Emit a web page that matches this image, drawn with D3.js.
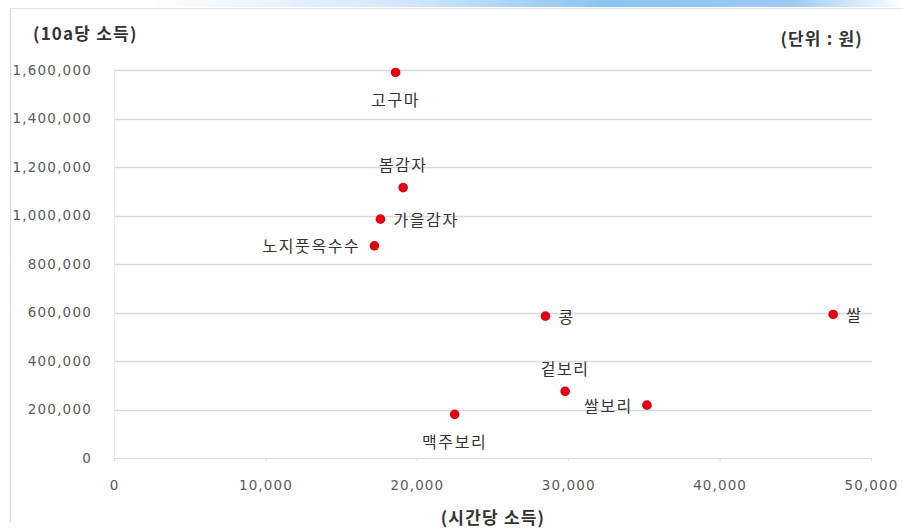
<!DOCTYPE html>
<html><head><meta charset="utf-8">
<script src="https://cdn.jsdelivr.net/npm/d3@7"></script>
<style>
html,body{margin:0;padding:0;background:#fff;}
svg{display:block;font-family:"Noto Sans CJK KR","Noto Sans",sans-serif;}
</style></head>
<body>
<svg id="chart" width="903" height="528"></svg>
<script>
const crops = ["고구마","봄감자","가을감자","노지풋옥수수","콩","쌀","겉보리","쌀보리","맥주보리"];
const hourlyIncome = [18600, 19100, 17600, 17200, 28500, 47500, 29800, 35200, 22500];
const incomePer10a = [1590000, 1115000, 985000, 875000, 585000, 592000, 275000, 218000, 180000];
const labelPos = ["below","above","right","left","right","right","above","left","below"];
const xTicks = [0, 10000, 20000, 30000, 40000, 50000];
const yTicks = [0, 200000, 400000, 600000, 800000, 1000000, 1200000, 1400000, 1600000];
const yTitle = "(10a당 소득)";
const unitText = "(단위 : 원)";
const xTitle = "(시간당 소득)";

const svg = d3.select("#chart");
const defs = svg.append("defs");
const grad = defs.append("linearGradient").attr("id","band").attr("x1","0").attr("x2","1");
grad.append("stop").attr("offset","0").attr("stop-color","#ffffff");
grad.append("stop").attr("offset","0.35").attr("stop-color","#cfe6fb");
grad.append("stop").attr("offset","0.6").attr("stop-color","#8cc3f3");
grad.append("stop").attr("offset","0.85").attr("stop-color","#9ccaf3");
grad.append("stop").attr("offset","1").attr("stop-color","#ffffff");
svg.append("rect").attr("x",150).attr("y",0).attr("width",753).attr("height",7).attr("fill","url(#band)");

// outer frame
svg.append("line").attr("x1",10).attr("x2",903).attr("y1",8.5).attr("y2",8.5).attr("stroke","#e4e4e4");
svg.append("line").attr("x1",10.5).attr("x2",10.5).attr("y1",8).attr("y2",522).attr("stroke","#d8d8d8");

const x = d3.scaleLinear().domain([0,50000]).range([114,871]);
const y = d3.scaleLinear().domain([0,1600000]).range([458,70]);

const fmt = d3.format(",");
const tickFont = "'DejaVu Sans',sans-serif";

// horizontal gridlines
svg.append("g").selectAll("line").data(yTicks.filter(d=>d>0)).join("line")
  .attr("x1",x(0)).attr("x2",x(50000)+1)
  .attr("y1",d=>Math.round(y(d))+0.5).attr("y2",d=>Math.round(y(d))+0.5)
  .attr("stroke","#d9d9d9").attr("stroke-width",1.3);

// y axis
const yAxis = svg.append("g").attr("transform",`translate(${x(0)},0)`)
  .call(d3.axisLeft(y).tickValues(yTicks).tickFormat(fmt).tickSize(0).tickPadding(22));
yAxis.select(".domain").attr("stroke","#ececec");
yAxis.selectAll("text").attr("fill","#5a5a5a").attr("font-size",13.5)
  .attr("letter-spacing",1.2).style("font-family",tickFont);

// x axis
const xAxis = svg.append("g").attr("transform",`translate(0,${y(0)})`)
  .call(d3.axisBottom(x).tickValues(xTicks).tickFormat(fmt).tickSize(3).tickPadding(19));
xAxis.select(".domain").attr("stroke","#dcdcdc");
xAxis.selectAll(".tick line").attr("stroke","#dcdcdc");
xAxis.selectAll("text").attr("fill","#5a5a5a").attr("font-size",13.5)
  .attr("letter-spacing",1.1).style("font-family",tickFont);

// titles
svg.append("text").attr("x",33).attr("y",40).text(yTitle)
  .attr("font-size",17).attr("font-weight","bold").attr("fill","#333").attr("letter-spacing",1.2);
svg.append("text").attr("x",863).attr("y",45).attr("text-anchor","end").text(unitText)
  .attr("font-size",17).attr("font-weight","bold").attr("fill","#333").attr("letter-spacing",1.2);
svg.append("text").attr("x",493).attr("y",524).attr("text-anchor","middle").text(xTitle)
  .attr("font-size",17).attr("font-weight","bold").attr("fill","#333").attr("letter-spacing",1.2);

// points
const data = crops.map((c,i)=>({name:c, x:hourlyIncome[i], y:incomePer10a[i], pos:labelPos[i]}));
svg.append("g").selectAll("circle").data(data).join("circle")
  .attr("cx",d=>x(d.x)).attr("cy",d=>y(d.y)).attr("r",4.8).attr("fill","#e00012");

// labels
svg.append("g").selectAll("text").data(data).join("text")
  .attr("x",d=> d.pos==="right" ? x(d.x)+13 : d.pos==="left" ? x(d.x)-14 : x(d.x))
  .attr("y",d=> d.pos==="above" ? y(d.y)-22 : d.pos==="below" ? y(d.y)+28 : y(d.y)+1)
  .attr("dy","0.35em")
  .attr("text-anchor",d=> d.pos==="right" ? "start" : d.pos==="left" ? "end" : "middle")
  .attr("font-size",16).attr("letter-spacing",1.6).attr("fill","#333")
  .text(d=>d.name);
</script>
</body></html>
